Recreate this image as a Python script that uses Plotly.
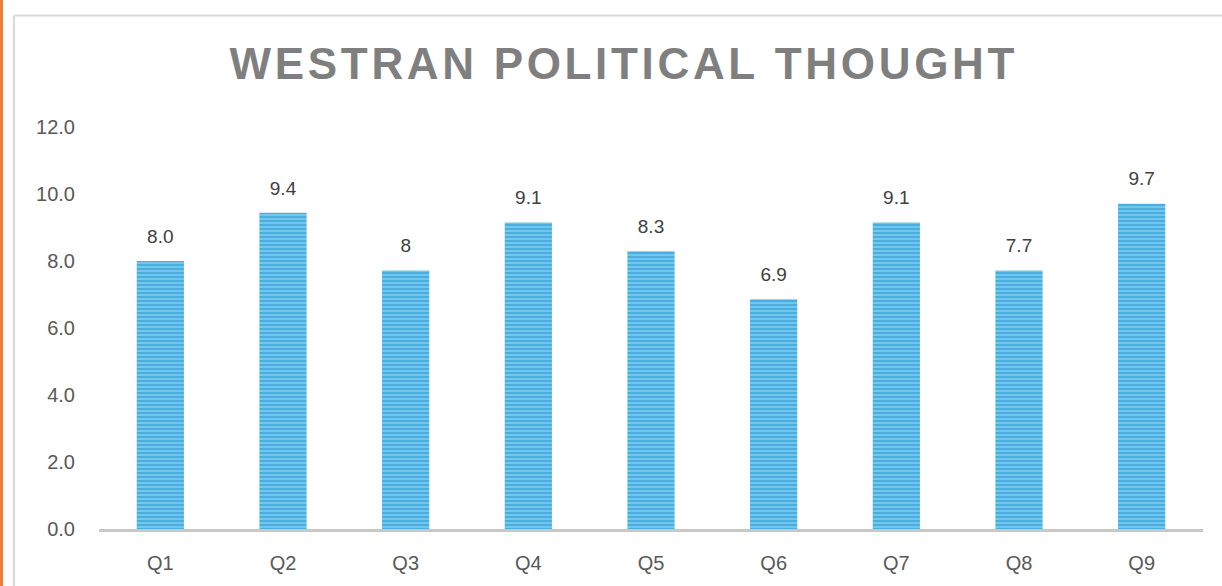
import plotly.graph_objects as go

categories = ["Q1", "Q2", "Q3", "Q4", "Q5", "Q6", "Q7", "Q8", "Q9"]
values = [8.0, 9.44, 7.72, 9.15, 8.29, 6.86, 9.15, 7.72, 9.71]
value_labels = ["8.0", "9.4", "8", "9.1", "8.3", "6.9", "9.1", "7.7", "9.7"]
y_ticks = [0, 2, 4, 6, 8, 10, 12]
y_tick_labels = ["0.0", "2.0", "4.0", "6.0", "8.0", "10.0", "12.0"]
title_text = "WESTRAN POLITICAL THOUGHT"

W, H = 1222, 586
L, R, T, B = 99, 19, 127, 55
pw, ph = W - L - R, H - T - B
FONT = "Liberation Sans, Arial, sans-serif"

def px(x):
    return (x - L) / pw

def py(y):
    return (H - B - y) / ph

spaced_title = "\u200a".join(list(title_text))

fig = go.Figure()
fig.add_trace(go.Bar(
    x=categories,
    y=values,
    width=0.385,
    marker=dict(
        color="#7fcbef",
        line=dict(width=0),
        pattern=dict(shape="-", fgcolor="#1494d2", size=4, solidity=0.6, fillmode="overlay"),
    ),
    hoverinfo="skip",
))
fig.add_trace(go.Scatter(
    x=categories,
    y=values,
    mode="markers+text",
    text=value_labels,
    textposition="top center",
    textfont=dict(family=FONT, size=19, color="#404040"),
    marker=dict(size=20, opacity=0),
    cliponaxis=False,
    hoverinfo="skip",
))

fig.update_layout(
    width=W, height=H,
    margin=dict(l=L, r=R, t=T, b=B, pad=0),
    paper_bgcolor="white",
    plot_bgcolor="white",
    showlegend=False,
    hovermode=False,
    title=dict(
        text="<b>" + spaced_title + "</b>",
        x=622 / W, xanchor="center", xref="container",
        y=1 - 64 / H, yanchor="middle",
        font=dict(family=FONT, size=44, color="#7f7f7f"),
    ),
    font=dict(family=FONT, size=20, color="#595959"),
)

fig.update_xaxes(
    range=[-0.5, len(categories) - 0.5],
    showgrid=False,
    showline=True, linecolor="#c8c8c8", linewidth=3,
    ticks="", ticklabelstandoff=14,
    tickfont=dict(size=20, color="#595959"),
)
fig.update_yaxes(
    range=[0, 12],
    tickvals=y_ticks, ticktext=y_tick_labels,
    showgrid=False, zeroline=False, showline=False,
    ticks="", ticklabelstandoff=23,
    tickfont=dict(size=20, color="#595959"),
)

shapes = [
    dict(type="line", xref="paper", yref="paper",
         x0=px(14), x1=px(W + 5), y0=py(15), y1=py(15),
         line=dict(color="#d9d9d9", width=2)),
    dict(type="line", xref="paper", yref="paper",
         x0=px(14), x1=px(14), y0=py(15), y1=py(H + 5),
         line=dict(color="#d9d9d9", width=2)),
    dict(type="rect", xref="paper", yref="paper",
         x0=px(-2), x1=px(3), y0=py(-5), y1=py(H + 5),
         fillcolor="#ed7d31", line=dict(width=0)),
]
fig.update_layout(shapes=shapes)

fig.write_html("out.html", config={"displayModeBar": False},
               post_script="document.body.style.margin='0';")
